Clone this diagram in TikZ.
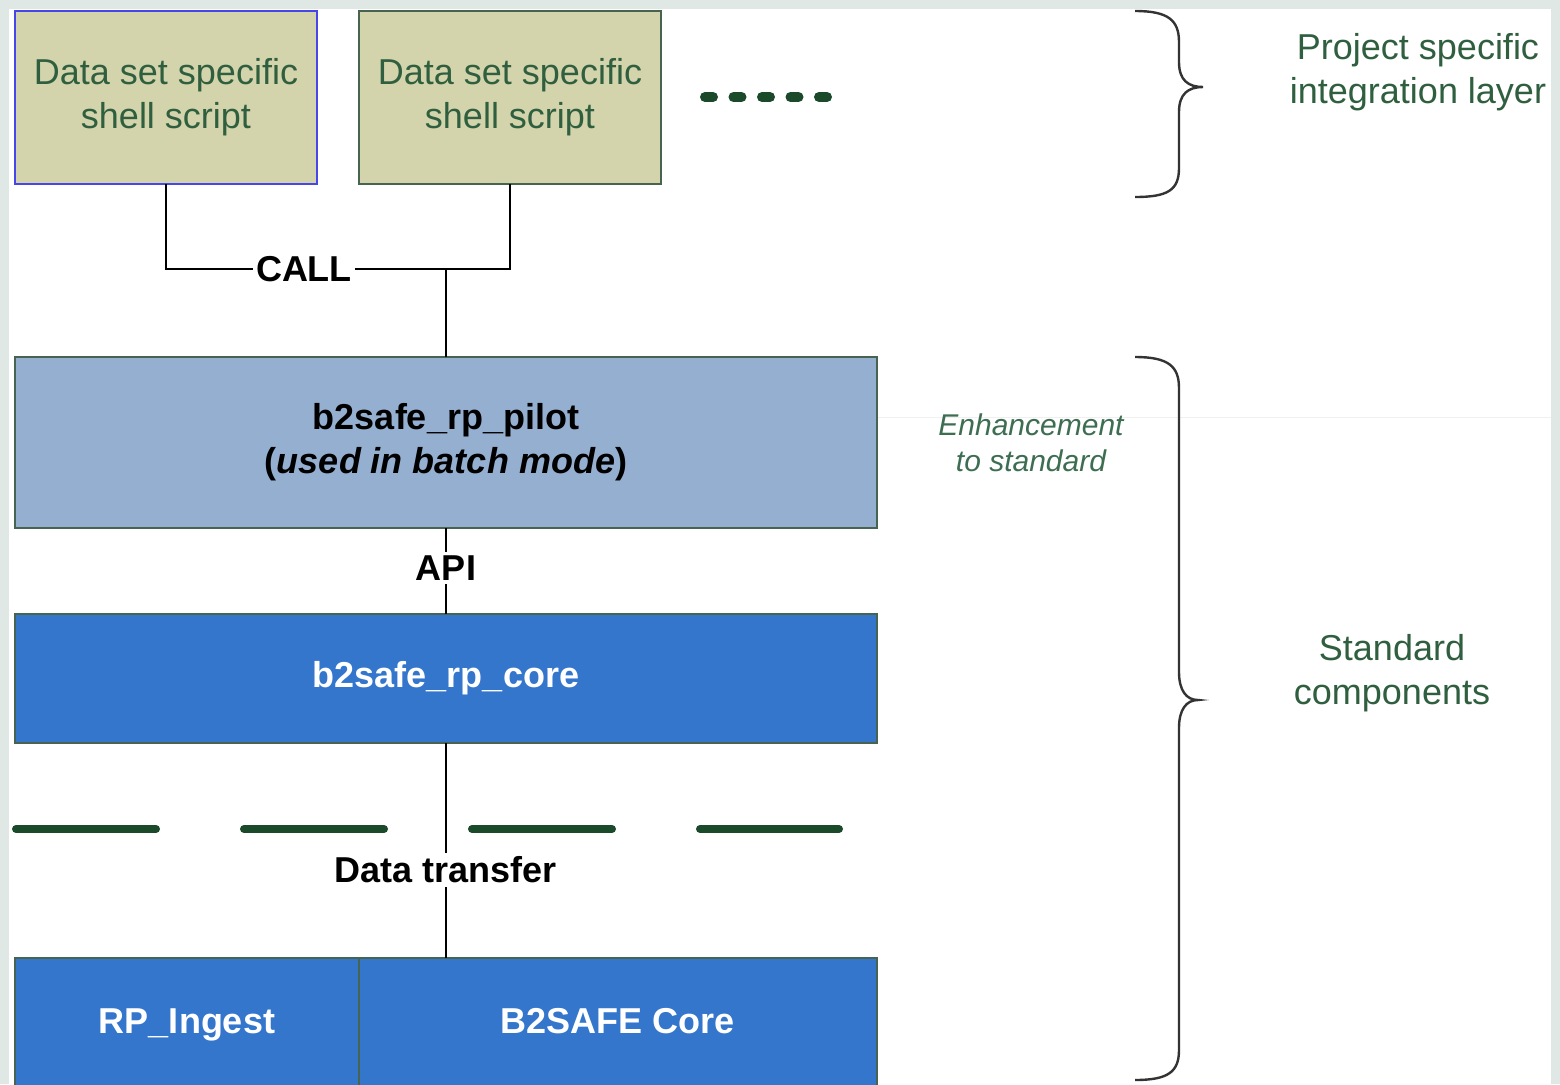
\documentclass[tikz,border=0pt]{standalone}
\usepackage{fontspec}
\setmainfont{Liberation Sans}
\definecolor{frame}{RGB}{224,232,229}
\definecolor{tanfill}{RGB}{212,212,172}
\definecolor{txtgreen}{RGB}{47,95,63}
\definecolor{enhgreen}{RGB}{62,110,82}
\definecolor{selblue}{RGB}{70,70,235}
\definecolor{boxedge}{RGB}{70,100,80}
\definecolor{pilotblue}{RGB}{149,175,209}
\definecolor{coreblue}{RGB}{52,118,204}
\definecolor{sepgreen}{RGB}{27,74,43}
\begin{document}
\begin{tikzpicture}[x=0.5pt, y=-0.5pt,
  every node/.style={inner sep=0pt, outer sep=0pt, align=center, font=\fontsize{18}{22}\selectfont},
  script/.style={draw=boxedge, fill=tanfill, text=txtgreen, line width=1pt, minimum width=151pt, minimum height=86.5pt},
  layerbox/.style={draw=boxedge, line width=1pt, minimum width=431pt},
  corebox/.style={layerbox, fill=coreblue, text=white, font=\fontsize{18}{22}\selectfont\bfseries},
  basebox/.style={corebox, minimum height=66pt, text height=13pt, text depth=4pt},
  lbl/.style={font=\fontsize{18}{22}\selectfont\bfseries, inner xsep=1.5pt, inner ysep=2pt},
  link/.style={line width=1pt},
  sepline/.style={color=sepgreen, line cap=round},
  curly/.style={line width=1.2pt, color=black!80}]
\useasboundingbox (0,0) rectangle (1560,1084);
\clip (0,0) rectangle (1560,1084);
\fill[frame] (0,0) rectangle (1560,1084);
\fill[white] (9,9) rectangle (1551,1084);
\draw[black!6] (877,417) -- (1551,417);

% project specific scripts
\node[script, draw=selblue] (dss1) at (166,97.5) {Data set specific\\shell script};
\node[script] (dss2) at (510,97.5) {Data set specific\\shell script};
\draw[sepline, line width=5pt, dash pattern=on 4pt off 10.25pt] (705,97) -- (827,97);
\node[lbl] (call) at (304,269) {CALL};
\coordinate (callj) at (446,269);

% standard layers
\node[layerbox, fill=pilotblue, minimum height=85.5pt] (pilot) at (446,442.5) {\textbf{b2safe\_rp\_pilot}\\\textbf{(\textit{used in batch mode})}};
\node[lbl] (api) at (446,568) {API};
\node[corebox, minimum height=64.5pt] (core) at (446,678.5) {b2safe\_rp\_core};
\draw[sepline, line width=4pt, dash pattern=on 70pt off 44pt] (16,829) -- (839,829);
\node[lbl] (xfer) at (446,870) {Data transfer};
\node[basebox, minimum width=172pt] (ingest) at (187,1024) {RP\_Ingest};
\node[basebox, minimum width=259pt] (b2core) at (618,1024) {B2SAFE Core};

\draw[link] (dss1.south) |- (call.west);
\draw[link] (call.east) -| (dss2.south);
\draw[link] (callj) -- (pilot.north);
\draw[link] (pilot.south) -- (api.north);
\draw[link] (api.south) -- (core.north);
\draw[link] (core.south) -- (xfer.north);
\draw[link] (xfer.south) -- (xfer.south |- b2core.north);

% braces and captions
\draw[curly] (1135,11) .. controls (1168,11) and (1179,20) .. (1179,42) -- (1179,62) .. controls (1179,80) and (1188,87) .. (1203,87) .. controls (1188,87) and (1179,94) .. (1179,112) -- (1179,168) .. controls (1179,190) and (1168,197) .. (1135,197);
\draw[curly] (1135,357) .. controls (1168,357) and (1179,366) .. (1179,388) -- (1179,672) .. controls (1179,690) and (1186,700) .. (1198,700) .. controls (1186,700) and (1179,710) .. (1179,728) -- (1179,1050) .. controls (1179,1072) and (1168,1080) .. (1135,1080);
\node[text=txtgreen] (projlayer) at (1418,72) {Project specific\\integration layer};
\node[text=enhgreen, font=\fontsize{15}{18}\selectfont\itshape] (enh) at (1031,443) {Enhancement\\to standard};
\node[text=txtgreen] (stdcomp) at (1392,673) {Standard\\components};
\end{tikzpicture}
\end{document}
